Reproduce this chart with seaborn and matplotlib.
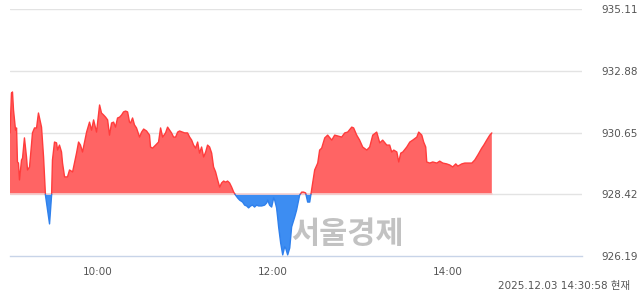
import numpy as np
import pandas as pd
import matplotlib
matplotlib.use("Agg")
import matplotlib.pyplot as plt
import seaborn as sns

# minutes after 09:00 and index value
minutes = [0, 1.0, 1.7, 2.4, 3.8, 4.5, 5.1, 5.8, 6.5, 7.9, 8.6, 9.9, 11.3, 12.0, 13.4, 14.7,
           15.4, 16.8, 18.2, 19.5, 21.6, 23.0, 24.3, 27.1, 28.5, 29.1, 30.5, 31.9, 32.6, 33.9,
           35.3, 36.0, 37.4, 39.4, 40.8, 42.9, 45.6, 47.0, 48.3, 49.7, 52.5, 54.5, 55.9, 57.3,
           59.3, 61.4, 62.7, 64.1, 65.5, 66.9, 68.2, 69.6, 71.0, 72.3, 73.7, 75.1, 76.5, 77.8,
           79.2, 80.6, 81.9, 82.6, 84.0, 85.3, 86.7, 88.8, 90.2, 91.6, 93.6, 95.6, 96.3, 97.7,
           99.8, 101.8, 103.2, 104.6, 106.6, 108.0, 109.4, 110.7, 112.1, 113.5, 114.9, 116.2,
           119.7, 121.7, 123.1, 124.5, 125.8, 127.2, 128.6, 129.9, 131.3, 132.7, 134.1, 135.4,
           136.8, 138.2, 139.5, 140.9, 142.3, 143.7, 145.0, 146.4, 147.8, 149.1, 150.5, 151.9,
           153.3, 154.6, 156.0, 157.4, 159.4, 160.8, 162.2, 163.5, 164.9, 166.3, 167.6, 169.0,
           170.4, 172.5, 174.5, 175.9, 176.6, 177.9, 179.3, 180.7, 181.4, 182.7, 183.4, 184.1,
           184.8, 185.5, 186.9, 188.2, 188.9, 190.3, 191.7, 193.0, 195.1, 196.4, 198.5, 199.9,
           201.2, 202.6, 204.0, 205.4, 206.7, 208.8, 210.9, 212.2, 213.6, 215.7, 217.7, 220.5,
           222.5, 224.6, 227.3, 229.4, 231.4, 234.2, 235.5, 237.6, 239.6, 241.7, 244.5, 246.5,
           248.6, 251.3, 253.4, 255.4, 258.2, 260.2, 261.6, 263.0, 265.1, 266.4, 267.8, 269.2,
           271.9, 274.0, 276.0, 278.8, 280.1, 282.2, 283.5, 284.9, 285.6, 287.7, 289.7, 292.5,
           294.5, 296.6, 299.3, 301.4, 303.4, 305.5, 306.9, 309.6, 311.7, 313.7, 316.5, 318.5,
           320.6, 323.3, 324.7, 326.7, 328.8, 330.2]
values = [930.64, 932.08, 932.12, 931.47, 930.74, 930.82, 929.59, 929.55, 928.94, 929.66, 929.73,
          930.46, 929.77, 929.30, 929.41, 930.20, 930.64, 930.82, 930.82, 931.36, 930.85, 929.77,
          928.39, 927.35, 928.39, 929.66, 930.31, 930.28, 930.02, 930.20, 929.95, 929.55, 929.05,
          929.05, 929.30, 929.23, 929.91, 930.31, 930.20, 929.95, 930.67, 931.03, 930.74, 931.11,
          930.67, 931.65, 931.36, 931.29, 931.21, 931.11, 930.56, 931.00, 931.03, 930.85, 931.18,
          931.21, 931.29, 931.40, 931.43, 931.40, 931.03, 931.00, 931.18, 930.93, 930.82, 930.49,
          930.67, 930.78, 930.71, 930.56, 930.13, 930.09, 930.20, 930.31, 930.82, 930.49, 930.64,
          930.85, 930.74, 930.64, 930.49, 930.49, 930.67, 930.71, 930.64, 930.64, 930.49, 930.38,
          930.20, 930.09, 930.31, 929.91, 930.13, 929.77, 929.95, 930.20, 930.13, 929.91, 929.41,
          929.23, 928.94, 928.68, 928.83, 928.90, 928.86, 928.90, 928.83, 928.68, 928.50, 928.39,
          928.29, 928.21, 928.14, 928.03, 928.00, 927.93, 928.00, 928.03, 927.96, 928.03, 928.00,
          928.00, 928.03, 928.11, 928.21, 928.03, 927.96, 928.29, 928.21, 927.93, 927.60, 927.24,
          926.95, 926.66, 926.23, 926.52, 926.48, 926.23, 926.48, 927.24, 927.60, 927.85, 928.39,
          928.50, 928.50, 928.47, 928.14, 928.14, 928.58, 929.30, 929.55, 930.02, 930.09, 930.46,
          930.56, 930.38, 930.56, 930.53, 930.49, 930.64, 930.67, 930.85, 930.82, 930.56, 930.38,
          930.13, 930.02, 930.13, 930.56, 930.67, 930.28, 930.38, 930.20, 930.20, 929.95, 930.02,
          929.95, 929.59, 929.91, 929.95, 930.13, 930.31, 930.38, 930.49, 930.67, 930.56, 930.31,
          930.13, 929.59, 929.55, 929.59, 929.55, 929.62, 929.55, 929.52, 929.48, 929.41, 929.52,
          929.44, 929.52, 929.55, 929.55, 929.55, 929.66, 929.84, 930.09, 930.20, 930.38, 930.56,
          930.64]

base = 928.42
y_ticks = [926.19, 928.42, 930.65, 932.88, 935.11]
x_ticks = [60, 180, 300]
x_labels = ["10:00", "12:00", "14:00"]
stamp = "2025.12.03 14:30:58 현재"
watermark = "서울경제"

RED_FILL, RED_LINE = "#ff6464", "#ff3c3c"
BLUE_FILL, BLUE_LINE = "#3d8df2", "#2f80ec"

# insert crossing points of the base line, split into up / down segments
xs, ys = [minutes[0]], [values[0]]
for i in range(1, len(values)):
    y0, y1 = values[i - 1] - base, values[i] - base
    if y0 * y1 < 0:
        t = y0 / (y0 - y1)
        xs.append(minutes[i - 1] + t * (minutes[i] - minutes[i - 1]))
        ys.append(base)
    xs.append(minutes[i])
    ys.append(values[i])

rows = []
seg = 0
side_prev = None
for xv, yv in zip(xs, ys):
    if yv == base:
        side = side_prev
        rows.append((xv, yv, seg, side))
        seg += 1
        side_prev = "up" if side == "down" else "down"
        rows.append((xv, yv, seg, side_prev))
        continue
    side = "up" if yv > base else "down"
    if side_prev is not None and side != side_prev:
        seg += 1
    side_prev = side
    rows.append((xv, yv, seg, side))
line_df = pd.DataFrame(rows, columns=["minute", "value", "seg", "side"])

sns.set_style("white")
plt.rcParams["font.family"] = ["DejaVu Sans", "Noto Sans CJK KR"]

fig = plt.figure(figsize=(6.4, 2.94), dpi=100)
ax = fig.add_axes([10 / 640, 1 - 256 / 294, 572 / 640, (256 - 9.3) / 294])

x = np.array(xs)
y = np.array(ys)
ax.fill_between(x, base, y, where=y >= base, interpolate=True,
                color=RED_FILL, linewidth=0, zorder=2)
ax.fill_between(x, base, y, where=y <= base, interpolate=True,
                color=BLUE_FILL, linewidth=0, zorder=2)

sns.lineplot(data=line_df, x="minute", y="value", units="seg", hue="side",
             palette={"up": RED_LINE, "down": BLUE_LINE}, estimator=None,
             sort=False, linewidth=1.0, legend=False, ax=ax, zorder=3)

ax.set_xlim(0, 392)
ax.set_ylim(y_ticks[0], y_ticks[-1])

for t in y_ticks[1:]:
    ax.axhline(t, color="#e3e3e3", linewidth=1, zorder=1)
ax.plot([minutes[0], minutes[-1]], [base, base], color="#f6cfcf", linewidth=1.2, zorder=2.5)

ax.yaxis.tick_right()
ax.set_yticks(y_ticks)
ax.set_yticklabels([f"{v:.2f}" for v in y_ticks])
ax.tick_params(axis="y", length=0, pad=14, labelsize=7.5, labelcolor="#555555")
ax.set_xticks(x_ticks)
ax.set_xticklabels(x_labels)
ax.tick_params(axis="x", length=6, width=1, color="#c8d4e8", pad=2,
               labelsize=7.5, labelcolor="#555555")

for s in ["left", "right", "top"]:
    ax.spines[s].set_visible(False)
ax.spines["bottom"].set_color("#c8d4e8")
ax.spines["bottom"].set_linewidth(1)
ax.set_xlabel("")
ax.set_ylabel("")

fig.text(347 / 640, 1 - 234 / 294, watermark,
         ha="center", va="center", fontsize=22, fontweight="bold",
         family=["Noto Sans CJK KR"], color="#a8a8a8", alpha=0.7, zorder=5)

fig.text(630 / 640, 1 - 286 / 294, stamp, ha="right", va="center",
         fontsize=7.5, color="#555555")

fig.savefig("out.png", dpi=100)
